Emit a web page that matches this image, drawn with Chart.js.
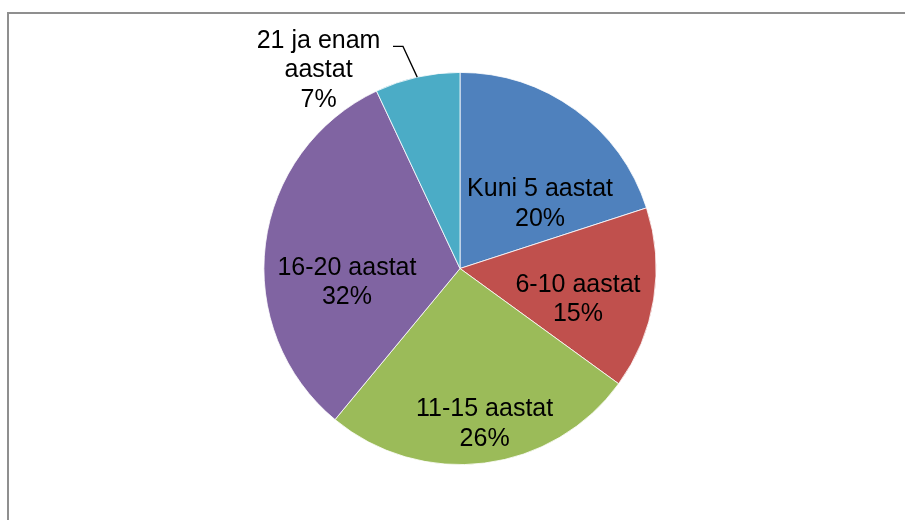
<!DOCTYPE html>
<html>
<head>
<meta charset="utf-8">
<script src="https://cdn.jsdelivr.net/npm/chart.js@4.4.1/dist/chart.umd.min.js"></script>
<style>
    html, body { margin: 0; padding: 0; background: #fff; overflow: hidden; }
    #wrap { position: relative; width: 905px; height: 520px; }
    #raam { position: absolute; left: 7px; top: 12px; width: 1000px; height: 1000px; border: 2px solid #8f8f8f; }
    #graafik { position: absolute; left: 0; top: 0; }
</style>
</head>
<body>
<div id="wrap">
    <div id="raam"></div>
    <canvas id="graafik" width="905" height="520"></canvas>
</div>
<script>
// --- ANDMED ---
const kategooriad = ['Kuni 5 aastat', '6-10 aastat', '11-15 aastat', '16-20 aastat', '21 ja enam aastat'];
const osakaalud = [20, 15, 26, 32, 7];
const varvid = ['#4F81BD', '#C0504D', '#9BBB59', '#8064A2', '#4BACC6'];

// Siltide paigutus: nurga nihe lõigu keskjoonest (kraadides) ja raadiuse osa
const siltideAsukoht = [
    { nihe: 15.2, r: 0.524 },
    { nihe: 5.7, r: 0.622 },
    { nihe: -1.8, r: 0.803 },
    { nihe: -14.3, r: 0.581 },
    { nihe: -22.9, r: 1.242, valjas: true, murda: true, kuur: { nihe: -1.8, r: 1.169 } }
];

const FONT = '25px "Liberation Sans", Arial, sans-serif';
const REA_KORGUS = 29.5;

// --- SILTIDE PLUGIN ---
const siltidePlugin = {
    id: 'siltidePlugin',
    afterDatasetsDraw(chart) {
        const ctx = chart.ctx;
        const meta = chart.getDatasetMeta(0);
        const kokku = osakaalud.reduce((a, b) => a + b, 0);

        ctx.save();
        ctx.font = FONT;
        ctx.fillStyle = '#000';
        ctx.textAlign = 'center';
        ctx.textBaseline = 'middle';

        meta.data.forEach((arc, i) => {
            const p = arc.getProps(['x', 'y', 'startAngle', 'endAngle', 'outerRadius'], true);
            const kesk = (p.startAngle + p.endAngle) / 2;
            const seade = siltideAsukoht[i];
            const punkt = (nihe, r) => {
                const a = kesk + nihe * Math.PI / 180;
                return { x: p.x + Math.cos(a) * r * p.outerRadius, y: p.y + Math.sin(a) * r * p.outerRadius };
            };

            const protsent = Math.round(osakaalud[i] / kokku * 100) + '%';
            let read;
            if (seade.murda) {
                const k = kategooriad[i].lastIndexOf(' ');
                read = [kategooriad[i].slice(0, k), kategooriad[i].slice(k + 1), protsent];
            } else {
                read = [kategooriad[i], protsent];
            }

            // Juhtjoon välise sildi jaoks
            if (seade.valjas) {
                const algus = punkt(0, 1);
                const kuur = punkt(seade.kuur.nihe, seade.kuur.r);
                ctx.beginPath();
                ctx.moveTo(algus.x, algus.y);
                ctx.lineTo(kuur.x, kuur.y);
                ctx.lineTo(kuur.x - 10, kuur.y);
                ctx.strokeStyle = '#000';
                ctx.lineWidth = 1.3;
                ctx.stroke();
            }

            const c = punkt(seade.nihe, seade.r);
            const y0 = c.y - (read.length - 1) * REA_KORGUS / 2;
            read.forEach((rida, j) => ctx.fillText(rida, c.x, y0 + j * REA_KORGUS));
        });
        ctx.restore();
    }
};

// --- GRAAFIK ---
new Chart(document.getElementById('graafik'), {
    type: 'pie',
    data: {
        labels: kategooriad,
        datasets: [{
            data: osakaalud,
            backgroundColor: varvid,
            borderColor: '#ffffff',
            borderWidth: 0.8
        }]
    },
    options: {
        responsive: false,
        animation: false,
        layout: { padding: { top: 72, bottom: 55, left: 15, right: 0 } },
        plugins: {
            legend: { display: false },
            tooltip: { enabled: false }
        }
    },
    plugins: [siltidePlugin]
});
</script>
</body>
</html>
